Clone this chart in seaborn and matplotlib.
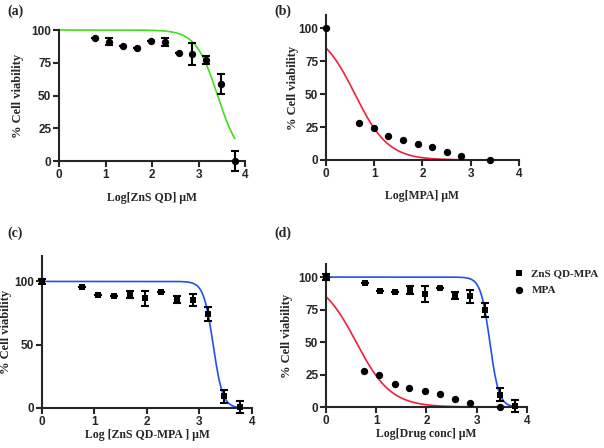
import numpy as np
import pandas as pd
import matplotlib
matplotlib.use("Agg")
import matplotlib.pyplot as plt
import seaborn as sns

# Datos
log_qd = [0.77, 1.07, 1.37, 1.67, 1.97, 2.27, 2.58, 2.87, 3.17, 3.48, 3.78]
via_qd = [94, 91, 87.5, 86, 91.3, 90.8, 82.2, 82, 77, 59, 0]
err_qd = [0, 2.8, 0, 0, 0, 3, 0, 8.4, 3.2, 7.6, 7.6]

log_mpa_b = [0, 0.68, 0.99, 1.29, 1.60, 1.90, 2.20, 2.51, 2.80, 3.40]
log_mpa_d = [0, 0.76, 1.06, 1.37, 1.66, 1.97, 2.27, 2.56, 2.86, 3.47]
via_mpa = [100, 28, 24.5, 18, 15, 12.5, 10, 6, 3, 0]

log_qdmpa = [0, 0.77, 1.07, 1.37, 1.67, 1.97, 2.27, 2.57, 2.87, 3.17, 3.47, 3.77]
via_qdmpa = [100, 95.6, 89.6, 88.3, 89.8, 86.8, 91.9, 85.8, 85.4, 74.6, 9.3, 0.9]
err_qdmpa = [2, 0, 0, 0, 3, 6, 0, 3, 5, 5.5, 5, 4.5]

# Parametros del ajuste (top, logIC50, pendiente de Hill, x maximo)
fit_qd = (100, 3.41, 1.85, 3.78)
fit_mpa = (100, 0.60, 1.254, 3.4)
fit_mpa_d = (100, 0.60, 1.254, 3.5)
fit_qdmpa = (100, 3.26, 4.76, 3.8)


def curva(params):
    top, ic50, hill, xmax = params
    x = np.linspace(0, xmax, 200)
    return pd.DataFrame({'x': x, 'y': top / (1 + 10 ** ((x - ic50) * hill))})


sns.set_style("ticks")
plt.rcParams['font.family'] = ['Liberation Sans', 'DejaVu Sans']
plt.rcParams['axes.linewidth'] = 1.5

fig = plt.figure(figsize=(6.04, 4.48), dpi=100)
ax_a = fig.add_axes([0.0977, 0.6406, 0.308, 0.2924])
ax_b = fig.add_axes([0.5397, 0.6429, 0.3195, 0.3237])
ax_c = fig.add_axes([0.0695, 0.0893, 0.3477, 0.339])
ax_d = fig.add_axes([0.5397, 0.0915, 0.3328, 0.319])

serif = dict(family=['Liberation Serif', 'DejaVu Serif'], weight='bold')
GREEN, RED, BLUE = '#3ee01a', '#f0203c', '#2050f0'


def puntos(ax, x, y, marker, err=None, label=None, size=28):
    if err is not None:
        ax.errorbar(x, y, yerr=err, fmt='none', ecolor='black', elinewidth=1.5,
                    capsize=3, capthick=1.5, clip_on=False, zorder=3)
    sns.scatterplot(x=x, y=y, ax=ax, color='black', marker=marker, s=size,
                    edgecolor='black', linewidth=0, label=label, clip_on=False,
                    zorder=4, legend=label is not None)


def estilo(ax, ymax, yticks, xlabel, xl_y, yl_x, letra, letra_xy):
    ax.set_xlim(0, 4)
    ax.set_ylim(0, ymax)
    ax.set_xticks([0, 1, 2, 3, 4])
    ax.set_yticks(yticks)
    ax.tick_params(width=1.5, length=4, labelsize=8.5, pad=1.5)
    for lab in ax.get_xticklabels() + ax.get_yticklabels():
        lab.set_fontweight('bold')
    sns.despine(ax=ax)
    ax.set_xlabel(xlabel, fontsize=8.5, **serif)
    ax.set_ylabel('% Cell viability', fontsize=9, **serif)
    ax.xaxis.set_label_coords(0.5, xl_y)
    ax.yaxis.set_label_coords(yl_x, 0.5)
    fig.text(letra_xy[0], letra_xy[1], letra, fontsize=10, ha='left', va='center', **serif)


# (a)
d = curva(fit_qd)
sns.lineplot(data=d, x='x', y='y', ax=ax_a, color=GREEN, lw=1.2, clip_on=False)
puntos(ax_a, log_qd, via_qd, 'o', err_qd)
estilo(ax_a, 100, [0, 25, 50, 75, 100], 'Log[ZnS QD] \u03bcM', -0.24, -0.19, '(a)', (0.012, 0.975))

# (b)
d = curva(fit_mpa)
sns.lineplot(data=d, x='x', y='y', ax=ax_b, color=RED, lw=1.2, clip_on=False)
puntos(ax_b, log_mpa_b, via_mpa, 'o')
estilo(ax_b, 110, [0, 25, 50, 75, 100], 'Log[MPA] \u03bcM', -0.205, -0.14, '(b)', (0.455, 0.975))

# (c)
d = curva(fit_qdmpa)
sns.lineplot(data=d, x='x', y='y', ax=ax_c, color=BLUE, lw=1.2, clip_on=False)
puntos(ax_c, log_qdmpa, via_qdmpa, 's', err_qdmpa, size=24)
estilo(ax_c, 120, [0, 50, 100], 'Log [ZnS QD-MPA ] \u03bcM', -0.14, -0.145, '(c)', (0.012, 0.48))

# (d)
d = curva(fit_qdmpa)
sns.lineplot(data=d, x='x', y='y', ax=ax_d, color=BLUE, lw=1.2, clip_on=False)
d = curva(fit_mpa_d)
sns.lineplot(data=d, x='x', y='y', ax=ax_d, color=RED, lw=1.2, clip_on=False)
puntos(ax_d, log_qdmpa, via_qdmpa, 's', err_qdmpa, label='ZnS QD-MPA', size=24)
puntos(ax_d, log_mpa_d, via_mpa, 'o', label='MPA')
estilo(ax_d, 110, [0, 25, 50, 75, 100], 'Log[Drug conc] \u03bcM', -0.15, -0.165, '(d)', (0.455, 0.48))
ax_d.legend(loc='upper left', bbox_to_anchor=(0.895, 1.0), frameon=False,
            prop=dict(family=['Liberation Serif'], weight='bold', size=8),
            handletextpad=0.3, handlelength=1.6, labelspacing=0.6, borderaxespad=0)

fig.savefig('out.png', dpi=100)
